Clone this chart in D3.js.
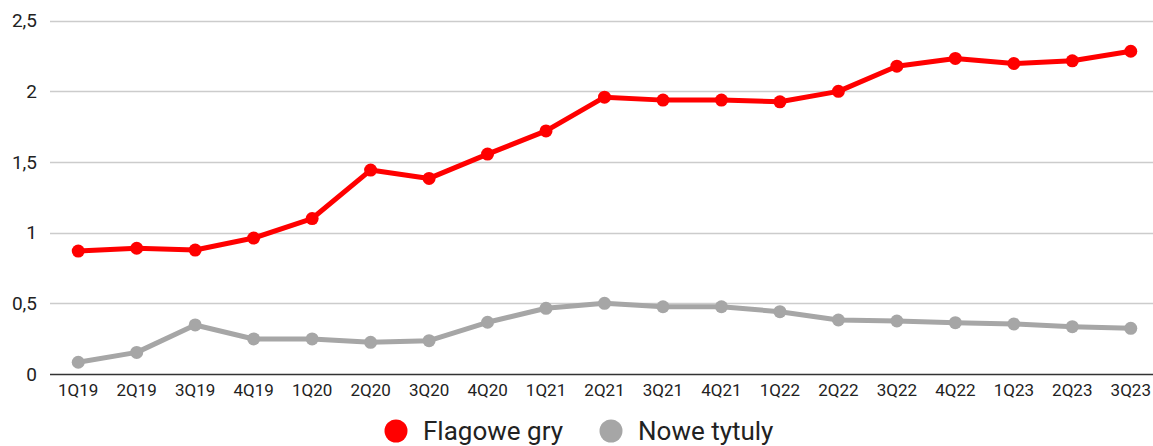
<!DOCTYPE html>
<html>
<head>
<meta charset="utf-8">
<script src="https://cdn.jsdelivr.net/npm/d3@7"></script>
<style>
  body { margin: 0; background: #fff; }
  svg text { font-family: Roboto, "Noto Sans", sans-serif; fill: #222; }
</style>
</head>
<body>
<div id="chart"></div>
<script>
var quarters = ["1Q19","2Q19","3Q19","4Q19","1Q20","2Q20","3Q20","4Q20","1Q21","2Q21",
                "3Q21","4Q21","1Q22","2Q22","3Q22","4Q22","1Q23","2Q23","3Q23"];
var flagowe = [0.87,0.89,0.877,0.962,1.10,1.443,1.384,1.556,1.72,1.959,
               1.938,1.938,1.926,2.0,2.178,2.233,2.197,2.216,2.284];
var nowe = [0.083,0.153,0.347,0.248,0.248,0.224,0.236,0.366,0.465,0.50,
            0.476,0.476,0.441,0.382,0.375,0.363,0.354,0.335,0.323];
var yTicks = [0, 0.5, 1, 1.5, 2, 2.5];
var seriesNames = ["Flagowe gry", "Nowe tytuly"];
var seriesColors = ["#ff0000", "#a6a6a6"];

var width = 1153, height = 446;

var svg = d3.select("#chart").append("svg")
    .attr("width", width)
    .attr("height", height);

var x = d3.scaleBand()
    .domain(quarters)
    .range([49, 1160]);

var y = d3.scaleLinear()
    .domain([0, 2.5])
    .range([374, 20.7]);

var fmt = function(d) { return String(d).replace(".", ","); };

// gridlines
svg.append("g").selectAll("line")
    .data(yTicks.filter(function(d) { return d > 0; })).enter()
    .append("line")
    .attr("x1", 50).attr("x2", 1160)
    .attr("y1", function(d) { return Math.round(y(d)) + 0.5; })
    .attr("y2", function(d) { return Math.round(y(d)) + 0.5; })
    .style("stroke", "#cccccc")
    .style("stroke-width", 1.5);

// y labels
svg.append("g").selectAll("text")
    .data(yTicks).enter()
    .append("text")
    .attr("x", 37)
    .attr("y", function(d) { return y(d); })
    .attr("dy", "0.35em")
    .attr("text-anchor", "end")
    .style("font-size", "19px")
    .text(fmt);

// x axis
var xAxis = svg.append("g")
    .attr("transform", "translate(0,374)")
    .call(d3.axisBottom(x).tickSize(0).tickPadding(10));
xAxis.select(".domain")
    .attr("d", "M50,0.5H1160")
    .style("stroke", "#333")
    .style("stroke-width", 1.5);
xAxis.selectAll("text")
    .style("font-size", "17px")
    .style("font-family", "Roboto, sans-serif")
    .style("fill", "#222");

var line = d3.line()
    .x(function(d, i) { return x(quarters[i]) + x.bandwidth() / 2; })
    .y(function(d) { return y(d); });

[nowe, flagowe].forEach(function(vals) {
    var idx = vals === flagowe ? 0 : 1;
    var g = svg.append("g");
    g.append("path")
        .attr("d", line(vals))
        .style("fill", "none")
        .style("stroke", seriesColors[idx])
        .style("stroke-width", 5)
        .style("stroke-linejoin", "round");
    g.selectAll("circle")
        .data(vals).enter()
        .append("circle")
        .attr("cx", function(d, i) { return x(quarters[i]) + x.bandwidth() / 2; })
        .attr("cy", function(d) { return y(d); })
        .attr("r", 6.5)
        .style("fill", seriesColors[idx]);
});

// legend
var legendX = [396, 611];
var legend = svg.append("g").selectAll("g")
    .data(seriesNames).enter()
    .append("g")
    .attr("transform", function(d, i) { return "translate(" + legendX[i] + ",431)"; });
legend.append("circle")
    .attr("r", 11.5)
    .style("fill", function(d, i) { return seriesColors[i]; });
legend.append("text")
    .attr("x", 27)
    .attr("dy", "0.35em")
    .style("font-size", "26px")
    .text(function(d) { return d; });
</script>
</body>
</html>
